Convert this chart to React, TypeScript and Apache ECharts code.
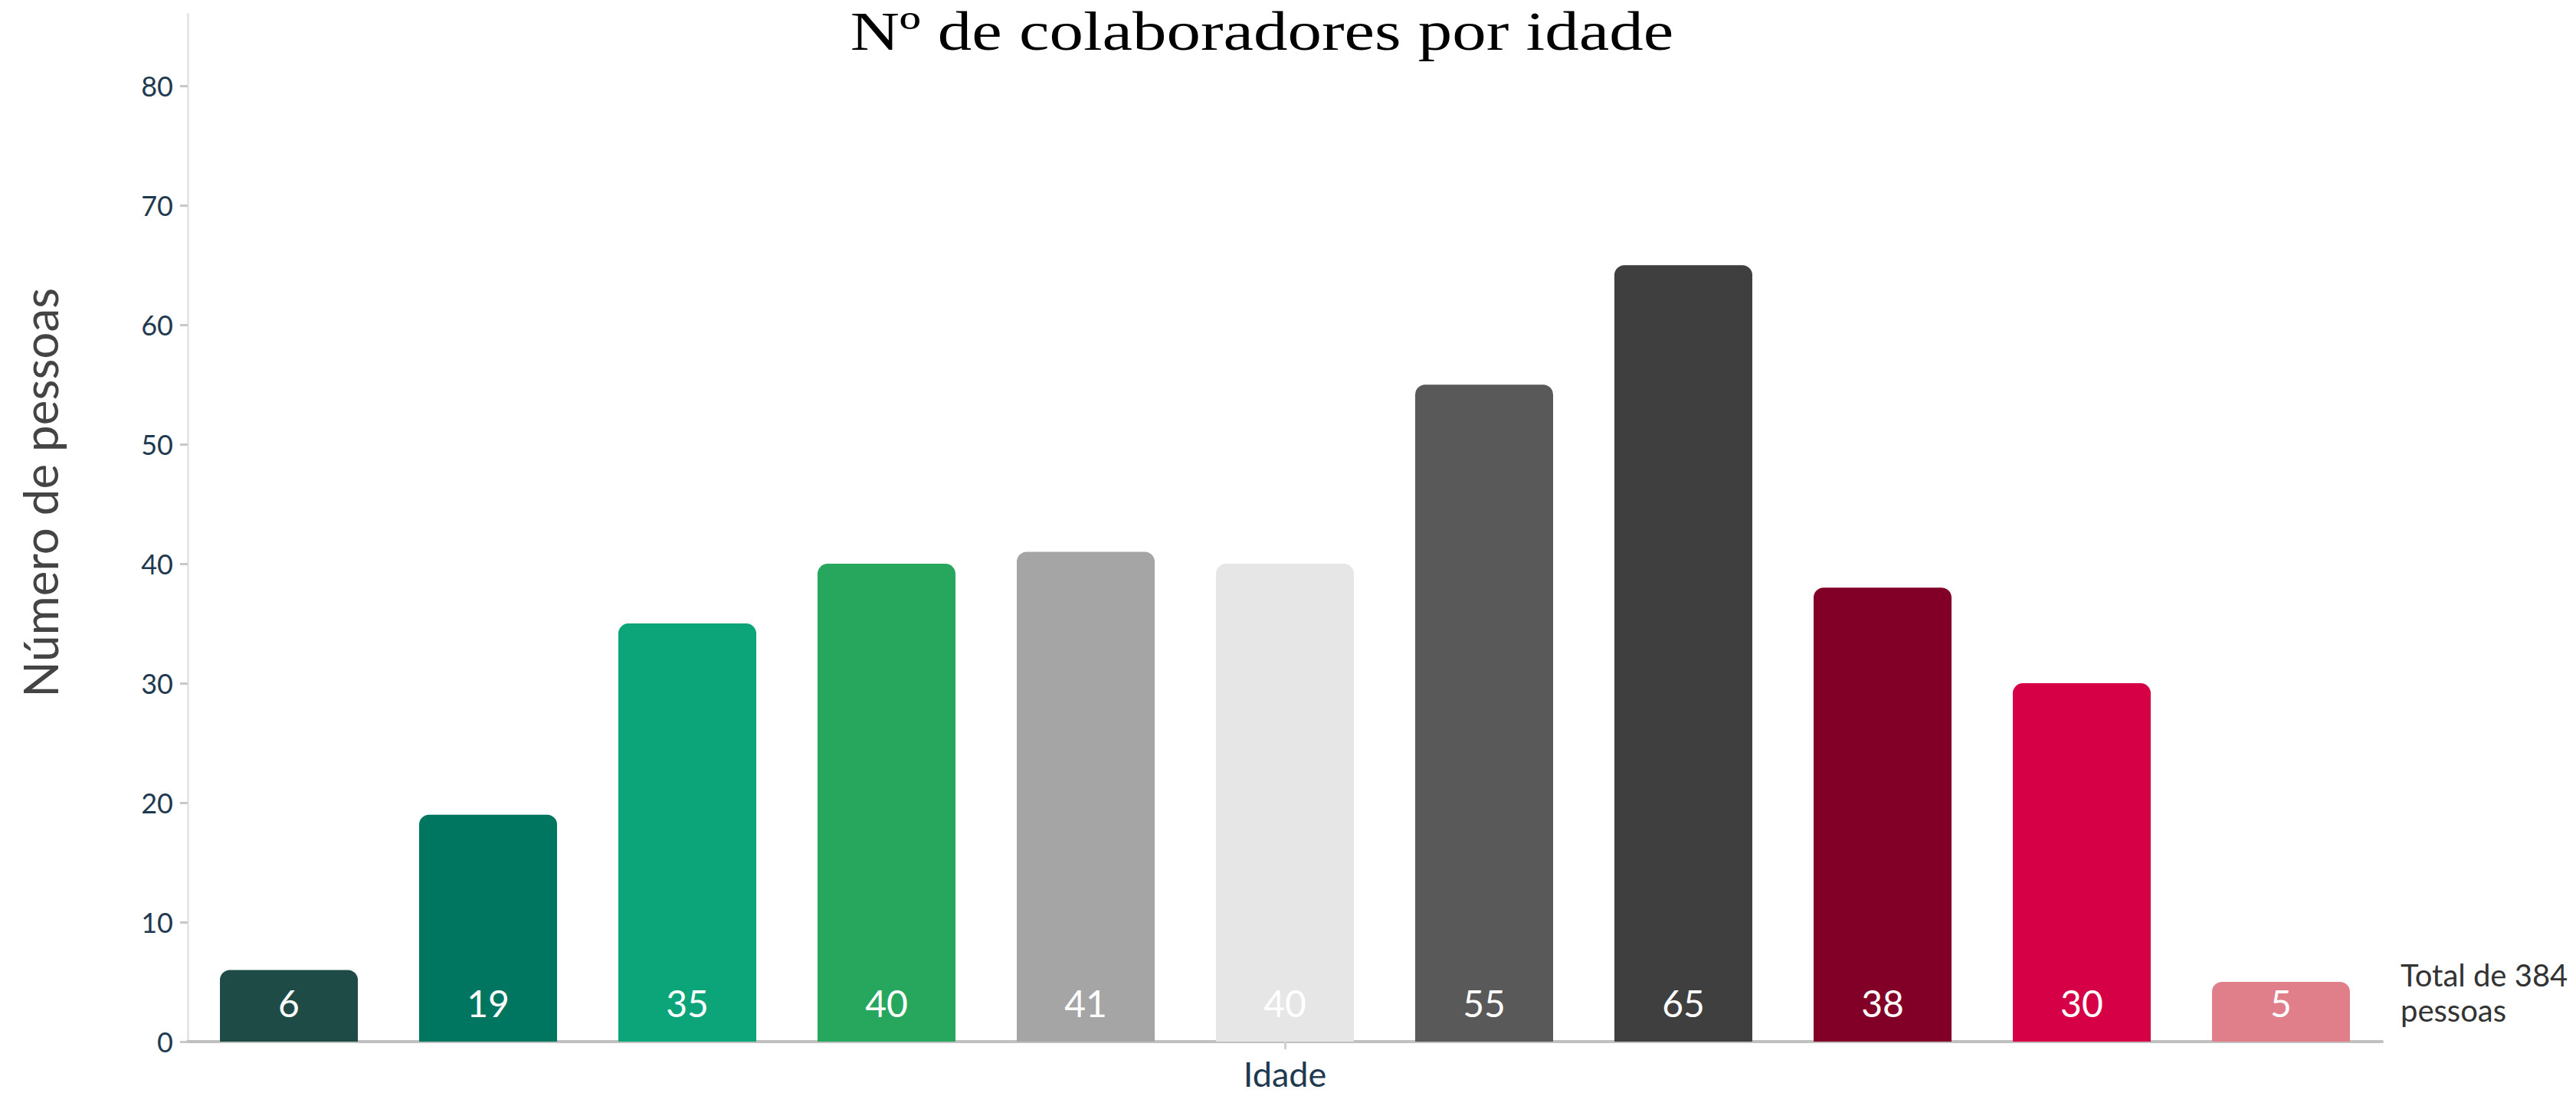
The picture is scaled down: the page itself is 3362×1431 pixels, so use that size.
import React, { useEffect, useRef } from "react";
import * as echarts from "echarts";

const titleText = "Nº de colaboradores por idade";
const categories = ["Idade"];
const values = [6, 19, 35, 40, 41, 40, 55, 65, 38, 30, 5];
const barColors = [
  "#1f4b47",
  "#00755f",
  "#0ba579",
  "#27a75e",
  "#a5a5a5",
  "#e6e6e6",
  "#595959",
  "#3f3f3f",
  "#820028",
  "#d50045",
  "#e07f8a",
];
const yTickValues = [0, 10, 20, 30, 40, 50, 60, 70, 80];
const yAxisName = "Número de pessoas";
const totalNote = "Total de 384\npessoas";

export default function App() {
  const ref = useRef<HTMLDivElement>(null);

  useEffect(() => {
    if (!ref.current) return;
    const chart = echarts.init(ref.current, undefined, { renderer: "svg" });
    const series = values.map((v, i) => ({
      type: "bar",
      name: "g" + (i + 1),
      data: [v],
      barWidth: 180,
      barGap: "44.44%",
      itemStyle: { color: barColors[i], borderRadius: [13, 13, 0, 0] },
      label: {
        show: true,
        position: "insideBottom",
        distance: 27,
        color: "#ffffff",
        fontSize: 48,
        fontFamily: "Lato",
      },
    }));
    chart.setOption({
      animation: false,
      backgroundColor: "#ffffff",
      grid: { left: 245, right: 253, top: 18.6, bottom: 71, containLabel: false },
      xAxis: {
        type: "category",
        data: categories,
        axisLine: { show: true, lineStyle: { color: "#c0c0c0", width: 4 } },
        axisTick: { show: true, alignWithLabel: true, length: 10, lineStyle: { color: "#d0d0d0", width: 3 } },
        axisLabel: { fontSize: 45, lineHeight: 40, fontFamily: "Lato", color: "#1f3a50", margin: 22 },
        splitLine: { show: false },
      },
      yAxis: {
        type: "value",
        min: 0,
        max: 86,
        interval: 10,
        name: yAxisName,
        nameLocation: "middle",
        nameGap: 162,
        nameTextStyle: { fontSize: 62, fontFamily: "Lato", color: "#444444", padding: [0, 0, 0, 92] },
        axisLine: { show: true, lineStyle: { color: "#e6e6e6", width: 3 } },
        axisTick: { show: true, length: 10, customValues: yTickValues, lineStyle: { color: "#c8c8c8", width: 3 } },
        axisLabel: { fontSize: 36, fontFamily: "Lato", color: "#1f3a50", margin: 19, customValues: yTickValues },
        splitLine: { show: false },
      },
      series,
      graphic: [
        {
          type: "text",
          x: 1647,
          y: 41,
          scaleX: 1.235,
          style: {
            text: titleText,
            fontSize: 72,
            lineHeight: 70,
            fontFamily: "Liberation Serif",
            fill: "#000000",
            align: "center",
            verticalAlign: "middle",
          },
        },
        {
          type: "text",
          x: 3133,
          y: 1250,
          style: {
            text: totalNote,
            fontSize: 40,
            lineHeight: 46,
            fontFamily: "Lato",
            fill: "#333333",
            align: "left",
            verticalAlign: "top",
          },
        },
      ],
    });
    return () => chart.dispose();
  }, []);

  return (
    <div
      ref={ref}
      style={{ position: "fixed", left: 0, top: 0, width: 3362, height: 1431 }}
    />
  );
}
